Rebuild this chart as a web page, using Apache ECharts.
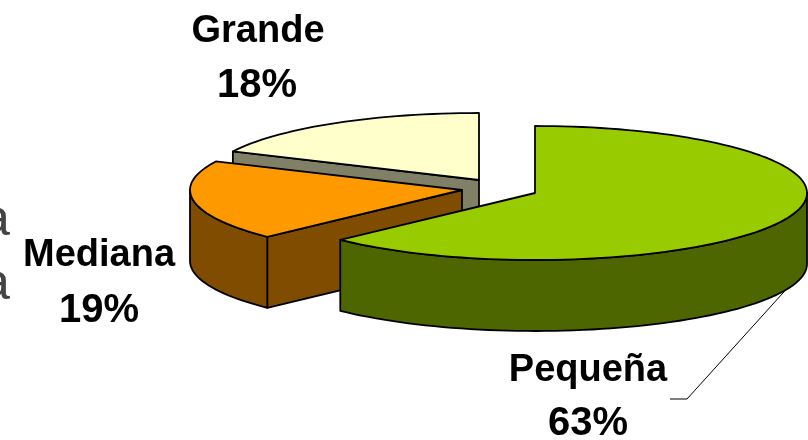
<!DOCTYPE html>
<html>
<head>
<meta charset="utf-8">
<style>
  html, body { margin: 0; padding: 0; background: #fff; }
  #chart { width: 808px; height: 440px; }
</style>
</head>
<body>
<div id="chart"></div>
<script src="https://cdn.jsdelivr.net/npm/echarts@6/dist/echarts.min.js"></script>
<script>
// drawn back to front, clockwise order from 12 o'clock is the reverse
const categories = ['Grande', 'Mediana', 'Pequeña']
const values = [18, 19.3, 62.7]

const topColors = ['#FFFFCC', '#FF9900', '#99CC00']
const sideColors = ['#808066', '#804D00', '#4D6600']
// apex of each exploded slice on the top surface
const centers = [[479, 180], [462, 190], [535, 193]]
const nameBase = [[258, 51], [99, 275], [588, 390]]
const pctBase = [[257, 106], [99, 331], [588, 444]]

const RX = 272
const RY = 67
const DEPTH = 71
const FONT = '"Liberation Sans", Arial, sans-serif'

const total = values.reduce((a, b) => a + b, 0)

// t is degrees clockwise from 12 o'clock
function pt(c, t, dy) {
  const r = t * Math.PI / 180
  return [c[0] + RX * Math.sin(r), c[1] - RY * Math.cos(r) + (dy || 0)]
}

function arc(c, from, to, dy) {
  const pts = []
  const n = Math.max(2, Math.ceil(Math.abs(to - from) / 2))
  for (let i = 0; i <= n; i++) {
    pts.push(pt(c, from + (to - from) * i / n, dy))
  }
  return pts
}

function angles(idx) {
  let end = 360
  for (let i = 0; i < idx; i++) {
    end -= values[i] / total * 360
  }
  return [end - values[idx] / total * 360, end]
}

function poly(points, fill) {
  return {
    type: 'polygon',
    shape: { points: points },
    style: { fill: fill, stroke: '#000', lineWidth: 1.8, lineJoin: 'round' }
  }
}

function renderSlice(params) {
  const i = params.dataIndex
  const [start, end] = angles(i)
  const c = centers[i]
  const below = [c[0], c[1] + DEPTH]
  const children = []

  // cut faces, only the ones turned to the viewer
  if (Math.sin(start * Math.PI / 180) < -1e-6) {
    children.push(poly([c, pt(c, start), pt(c, start, DEPTH), below], sideColors[i]))
  }
  if (Math.sin(end * Math.PI / 180) > 1e-6) {
    children.push(poly([c, pt(c, end), pt(c, end, DEPTH), below], sideColors[i]))
  }

  // outer wall, front half of the ellipse only
  const from = Math.max(start, 90)
  const to = Math.min(end, 270)
  if (to > from) {
    children.push(poly(arc(c, from, to).concat(arc(c, to, from, DEPTH)), sideColors[i]))
  }

  children.push(poly([c].concat(arc(c, start, end)), topColors[i]))

  // leader line only for the big slice, its label sits away from the slice
  if (values[i] === Math.max.apply(null, values)) {
    const mid = pt(c, (start + end) / 2, DEPTH)
    children.push({
      type: 'polyline',
      shape: { points: [mid, [687, 399], [670, 399]] },
      style: { fill: null, stroke: '#000', lineWidth: 1 }
    })
  }

  children.push({
    type: 'text',
    style: {
      x: nameBase[i][0], y: nameBase[i][1], text: categories[i],
      textAlign: 'center', textVerticalAlign: 'bottom',
      fill: '#000', font: 'bold 38px ' + FONT
    }
  })
  children.push({
    type: 'text',
    style: {
      x: pctBase[i][0], y: pctBase[i][1], text: Math.round(values[i]) + '%',
      textAlign: 'center', textVerticalAlign: 'bottom',
      fill: '#000', font: 'bold 40px ' + FONT
    }
  })

  return { type: 'group', children: children }
}

const chart = echarts.init(document.getElementById('chart'), null, { renderer: 'canvas' })
chart.setOption({
  animation: false,
  backgroundColor: '#fff',
  graphic: [
    { type: 'text', left: -19, top: 195, style: { text: 'a', fill: '#444', font: '52px ' + FONT } },
    { type: 'text', left: -19, top: 259, style: { text: 'a', fill: '#444', font: '52px ' + FONT } }
  ],
  series: [{
    type: 'custom',
    coordinateSystem: 'none',
    silent: true,
    data: values,
    renderItem: renderSlice
  }]
})
</script>
</body>
</html>
